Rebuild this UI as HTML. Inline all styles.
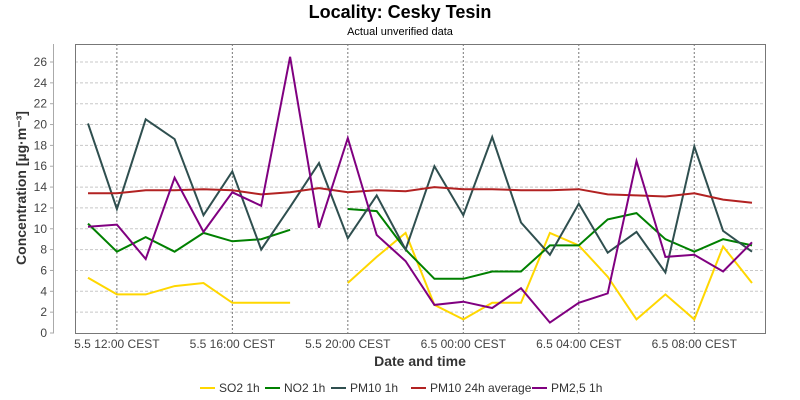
<!DOCTYPE html>
<html><head><meta charset="utf-8"><style>
body{margin:0;background:#fff;}
svg{display:block;font-family:"Liberation Sans",sans-serif;}
</style></head><body>
<svg id="c" width="800" height="400">
<text x="400" y="18" text-anchor="middle" font-size="18" font-weight="bold" fill="#000">Locality: Cesky Tesin</text>
<text x="400" y="35" text-anchor="middle" font-size="11" fill="#000">Actual unverified data</text>
<text transform="translate(26,188) rotate(-90)" text-anchor="middle" font-size="14" font-weight="bold" fill="#333">Concentration [µg·m⁻³]</text>
<text x="420" y="366" text-anchor="middle" font-size="14" font-weight="bold" fill="#333">Date and time</text>
<g id="grid"></g><g id="axes"></g><g id="series"></g><g id="legend"></g>
</svg>
<script>
const categories=["11:00","12:00","13:00","14:00","15:00","16:00","17:00","18:00","19:00","20:00","21:00","22:00","23:00","00:00","01:00","02:00","03:00","04:00","05:00","06:00","07:00","08:00","09:00","10:00"];
const so2=[5.3,3.7,3.7,4.5,4.8,2.9,2.9,2.9,null,4.8,7.3,9.6,2.7,1.3,2.9,2.9,9.6,8.4,5.4,1.3,3.7,1.3,8.3,4.8];
const no2=[10.5,7.8,9.2,7.8,9.6,8.8,9.0,9.9,null,11.9,11.7,8.0,5.2,5.2,5.9,5.9,8.4,8.4,10.9,11.5,9.0,7.8,9.0,8.4];
const pm10=[20.1,11.9,20.5,18.6,11.3,15.5,8.0,12.1,16.3,9.1,13.2,8.0,16.0,11.3,18.8,10.6,7.5,12.4,7.7,9.7,5.8,17.9,9.8,7.8];
const pm10avg=[13.4,13.4,13.7,13.7,13.8,13.7,13.3,13.5,13.9,13.5,13.7,13.6,14.0,13.8,13.8,13.7,13.7,13.8,13.3,13.2,13.1,13.4,12.8,12.5];
const pm25=[10.2,10.4,7.1,14.9,9.7,13.5,12.2,26.5,10.1,18.7,9.4,6.9,2.7,3.0,2.4,4.3,1.0,2.9,3.8,16.5,7.3,7.5,5.9,8.7];
const yTicks=[0,2,4,6,8,10,12,14,16,18,20,22,24,26];
const xTickIdx=[1,5,9,13,17,21];
const xTickLabels=["5.5 12:00 CEST","5.5 16:00 CEST","5.5 20:00 CEST","6.5 00:00 CEST","6.5 04:00 CEST","6.5 08:00 CEST"];
const seriesNames=["SO2 1h","NO2 1h","PM10 1h","PM10 24h average","PM2,5 1h"];
const seriesColors=["#ffd700","#008000","#2f4f4f","#b22222","#800080"];
const seriesData=[so2,no2,pm10,pm10avg,pm25];

const NS="http://www.w3.org/2000/svg";
const L=75,R=765,T=44,B=333;
function x(i){return 88+i*(752-88)/(categories.length-1);}
function y(v){return B-v*(B-62)/26;}
function mk(tag,attrs,parent){const e=document.createElementNS(NS,tag);for(const k in attrs)e.setAttribute(k,attrs[k]);parent.appendChild(e);return e;}
const grid=document.getElementById('grid'),axes=document.getElementById('axes'),ser=document.getElementById('series'),leg=document.getElementById('legend');
yTicks.forEach(v=>{
  if(v>0){const g=mk('line',{x1:L,x2:R,y1:y(v),y2:y(v),stroke:'#c8c8c8','stroke-dasharray':'3,2','stroke-width':1},grid);
  
  }
  const t=mk('line',{x1:50,x2:54,y1:y(v),y2:y(v),stroke:'#aaa'},axes);
  
  
  const tx=mk('text',{x:47,y:y(v)+4,'text-anchor':'end','font-size':12,fill:'#444'},axes);
  tx.textContent=v;
  
  
});
const ya=mk('line',{x1:53.5,x2:53.5,y1:44,y2:333,stroke:'#aaa'},axes);


xTickIdx.forEach((i,k)=>{
  const g=mk('line',{x1:x(i),x2:x(i),y1:T,y2:B,stroke:'#777','stroke-dasharray':'2,2'},grid);
  
  
  const tx=mk('text',{x:x(i),y:348,'text-anchor':'middle','font-size':12,fill:'#444'},axes);
  tx.textContent=xTickLabels[k];
  
  
});
const box=mk('rect',{x:L+0.5,y:T+0.5,width:R-L,height:B-T,fill:'none',stroke:'#777'},axes);


seriesData.forEach((d,s)=>{
  let segs=[],cur=[];
  d.forEach((v,i)=>{if(v==null){if(cur.length)segs.push(cur);cur=[];}else cur.push(x(i).toFixed(1)+','+y(v).toFixed(1));});
  if(cur.length)segs.push(cur);
  segs.forEach(sg=>{
    const p=mk('polyline',{points:sg.join(' '),fill:'none',stroke:seriesColors[s],'stroke-width':2,'stroke-linejoin':'miter'},ser);
    
    
  });
});
const legX=[200,265,331,411,532];
seriesNames.forEach((n,s)=>{
  const g=mk('g',{},leg);
  
  
  mk('line',{x1:legX[s],x2:legX[s]+15,y1:388,y2:388,stroke:seriesColors[s],'stroke-width':2},g);
  const t=mk('text',{x:legX[s]+19,y:392,'font-size':12,fill:'#333'},g);
  t.textContent=n;
});
</script>
</body></html>
